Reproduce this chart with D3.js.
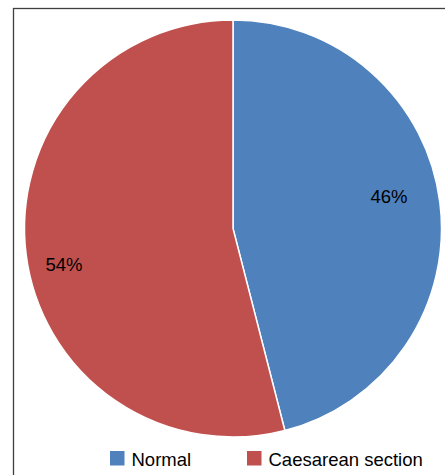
<!DOCTYPE html>
<html>
<head>
<meta charset="utf-8">
<script src="https://cdn.jsdelivr.net/npm/d3@7/dist/d3.min.js"></script>
<style>
  html, body { margin: 0; padding: 0; background: #fff; }
  svg { display: block; font-family: "Liberation Sans", Arial, sans-serif; }
</style>
</head>
<body>
<svg id="chart" width="445" height="475"></svg>
<script>
// Delivery type shares (percent)
const categories = ["Normal", "Caesarean section"];
const values = [46, 54];
const colors = ["#4F81BD", "#C0504D"];

const W = 445, H = 475;
const cx = 233, cy = 228.5, R = 208.5;

const svg = d3.select("#chart");

// chart frame
svg.append("rect")
  .attr("x", 13.5).attr("y", 8.5)
  .attr("width", 600).attr("height", 600)
  .attr("fill", "none")
  .attr("stroke", "#3f3f3f")
  .attr("stroke-width", 1.3);

const color = d3.scaleOrdinal().domain(categories).range(colors);

const pie = d3.pie().sort(null).value(d => d.value);
const arcs = pie(categories.map((c, i) => ({ name: c, value: values[i] })));

const arc = d3.arc().innerRadius(0).outerRadius(R);

const g = svg.append("g").attr("transform", `translate(${cx},${cy})`);

g.selectAll("path.slice")
  .data(arcs)
  .join("path")
  .attr("class", "slice")
  .attr("d", arc)
  .attr("fill", d => color(d.data.name))
  .attr("stroke", "#fff")
  .attr("stroke-width", 1.5);

// percentage labels, placed inside each slice
const labelR = 166, labelShift = -4.5 * Math.PI / 180;
const labels = g.append("g").attr("transform", "translate(-6.5,2)");
labels.selectAll("text.pct")
  .data(arcs)
  .join("text")
  .attr("class", "pct")
  .attr("x", d => labelR * Math.sin((d.startAngle + d.endAngle) / 2 + labelShift))
  .attr("y", d => -labelR * Math.cos((d.startAngle + d.endAngle) / 2 + labelShift))
  .attr("text-anchor", "middle")
  .attr("dominant-baseline", "central")
  .attr("font-size", 18.5)
  .attr("fill", "#000")
  .text(d => d.data.value + "%");

// legend
const legendX = [110, 247];
const legend = svg.append("g");
const items = legend.selectAll("g.item")
  .data(categories)
  .join("g")
  .attr("class", "item")
  .attr("transform", (d, i) => `translate(${legendX[i]},451)`);

items.append("rect")
  .attr("width", 14.5).attr("height", 14.5)
  .attr("fill", d => color(d));

items.append("text")
  .attr("x", 21.5)
  .attr("y", 14.8)
  .attr("font-size", 18.5)
  .attr("fill", "#000")
  .text(d => d);
</script>
</body>
</html>
